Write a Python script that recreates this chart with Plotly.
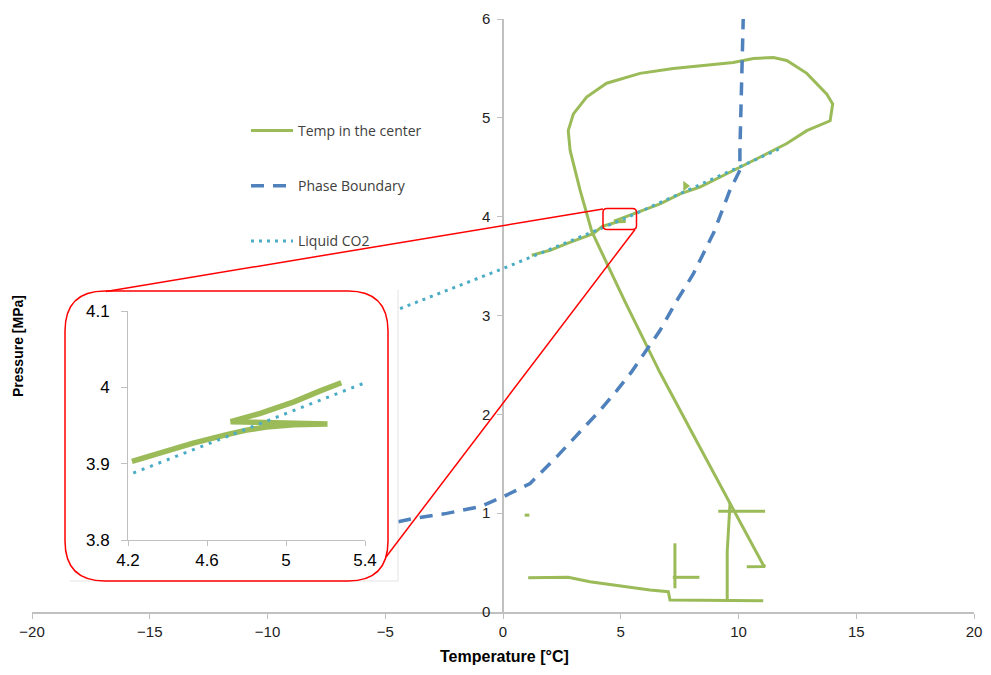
import plotly.graph_objects as go

# ---------------- data ----------------
# Temp in the center: main path (None separates pieces)
temp_x = [1.22, 2.00, 2.70, 3.83,
          4.22, 4.36, 4.53, 4.70, 4.80, 4.90, 5.04, 5.21, 4.95, 4.72, 4.87, 5.04, 5.17, 5.28,
          6.67, 7.52, 8.36, 10.06, 11.48, 12.05, 12.9, 13.6, 13.89, 14.0, 13.75, 12.9, 12.05,
          11.48, 10.63, 9.78, 8.65, 7.23, 5.82, 4.40, 3.55, 2.99, 2.77, 2.85, 3.27, 3.77,
          5.18, 6.67, 8.15, 9.64, 11.05, 11.13, 10.35,
          None, 0.92, 1.12,
          None, 1.07, 2.77, 3.69, 5.11, 6.24, 7.02, 7.09, 11.05,
          None, 7.30, 7.30, None, 7.21, 8.34,
          None, 9.64, 9.52, 9.52, None, 9.14, 11.13]
temp_y = [3.61, 3.66, 3.728, 3.829,
          3.903, 3.914, 3.927, 3.938, 3.944, 3.948, 3.951, 3.952, 3.953, 3.955, 3.966, 3.981, 3.995, 4.006,
          4.13, 4.23, 4.30, 4.50, 4.67, 4.74, 4.87, 4.94, 4.97, 5.14, 5.24, 5.45, 5.58,
          5.61, 5.60, 5.56, 5.53, 5.50, 5.45, 5.35, 5.21, 5.04, 4.87, 4.67, 4.27, 3.85,
          3.14, 2.42, 1.76, 1.10, 0.475, 0.46, 0.458,
          None, 0.98, 0.98,
          None, 0.347, 0.351, 0.306, 0.256, 0.222, 0.205, 0.121, 0.114,
          None, 0.695, 0.24, None, 0.351, 0.351,
          None, 1.10, 0.61, 0.114, None, 1.02, 1.02]
inset_start, inset_end = 4, 18   # slice of the path shown in the zoom inset

# Phase Boundary
phase_x = [-4.45, -3.81, -2.39, -0.98, 0.01, 1.15, 2.28, 3.27, 4.12, 4.83, 5.46,
           6.67, 7.38, 8.08, 8.51, 8.95, 9.64, 10.06, 10.06, 10.10, 10.18, 10.20]
phase_y = [0.913, 0.947, 0.998, 1.065, 1.166, 1.30, 1.57, 1.83, 2.04, 2.24, 2.43,
           2.85, 3.15, 3.42, 3.63, 3.84, 4.27, 4.47, 4.67, 5.0, 5.78, 6.0]

# Liquid CO2
liq_x = [-4.37, 0.0, 4.2, 5.4, 11.87]
liq_y = [3.07, 3.475, 3.885, 4.006, 4.70]

# direction arrow on the curve
arrow_x = [7.75]
arrow_y = [4.31]

x_ticks = [-20, -15, -10, -5, 0, 5, 10, 15, 20]
y_ticks = [0, 1, 2, 3, 4, 5, 6]
inset_x_ticks = [4.2, 4.6, 5.0, 5.4]
inset_x_labels = ["4.2", "4.6", "5", "5.4"]
inset_y_ticks = [3.8, 3.9, 4.0, 4.1]
inset_y_labels = ["3.8", "3.9", "4", "4.1"]

GREEN = "#9BBB59"
BLUE = "#4F81BD"
AQUA = "#4BACC6"
AXIS = "#c0c0c0"

# ---------------- layout geometry ----------------
# page is 991x675; the browser adds an 8px body margin around the figure
OFF = 8
FW, FH = 991 - 2 * OFF, 675 - 2 * OFF
PL, PR, PT, PB = 32, 974, 19, 612          # plot area in page pixels
L, T = PL - OFF, PT - OFF
R, B = FW - (PR - OFF), FH - (PB - OFF)
PW, PH = PR - PL, PB - PT


def px_x(p):
    return (p - PL) / PW


def px_y(p):
    return (PB - p) / PH


fig = go.Figure()

fig.add_trace(go.Scatter(x=temp_x, y=temp_y, mode="lines", name="Temp in the center",
                         line=dict(color=GREEN, width=3), legendgroup="a",
                         connectgaps=False))
fig.add_trace(go.Scatter(x=phase_x, y=phase_y, mode="lines", name="Phase Boundary",
                         line=dict(color=BLUE, width=3.5, dash="13px,9px"), legendgroup="b"))
fig.add_trace(go.Scatter(x=liq_x, y=liq_y, mode="lines", name="Liquid CO2",
                         line=dict(color=AQUA, width=3, dash="3px,5px"), legendgroup="c"))
fig.add_trace(go.Scatter(x=arrow_x, y=arrow_y, mode="markers", showlegend=False,
                         marker=dict(symbol="triangle-right", size=9, color=GREEN)))

# inset traces
fig.add_trace(go.Scatter(x=temp_x[inset_start:inset_end], y=temp_y[inset_start:inset_end],
                         mode="lines", showlegend=False,
                         line=dict(color=GREEN, width=5.5), xaxis="x2", yaxis="y2"))
fig.add_trace(go.Scatter(x=liq_x, y=liq_y, mode="lines", showlegend=False,
                         line=dict(color=AQUA, width=3, dash="3px,6px"), xaxis="x2", yaxis="y2"))

narrow = "Liberation Sans Narrow, Arial Narrow, Liberation Sans, Arial"

fig.update_layout(
    width=FW, height=FH,
    margin=dict(l=L, r=R, t=T, b=B, autoexpand=False),
    paper_bgcolor="white", plot_bgcolor="rgba(0,0,0,0)",
    showlegend=True,
    legend=dict(x=px_x(246), y=px_y(115), xanchor="left", yanchor="top",
                bgcolor="rgba(0,0,0,0)", traceorder="grouped", tracegroupgap=34,
                itemwidth=42,
                font=dict(family="Open Sans, Lato, sans-serif", size=14, color="#404040")),
    xaxis=dict(range=[-20, 20], tickvals=x_ticks, showgrid=False, zeroline=False,
               showline=True, linecolor=AXIS, linewidth=1.5, ticks="outside", ticklen=5,
               tickcolor=AXIS, tickfont=dict(family=narrow, size=15, color="#222"),
               anchor="y", domain=[0, 1]),
    yaxis=dict(range=[0, 6], tickvals=y_ticks, showgrid=False, zeroline=False,
               showline=True, linecolor=AXIS, linewidth=1.5, ticks="outside", ticklen=5,
               tickcolor=AXIS, tickfont=dict(family=narrow, size=15, color="#222"),
               ticklabelstandoff=4,
               anchor="free", position=0.5, domain=[0, 1]),
    xaxis2=dict(range=[4.2, 5.4], tickvals=inset_x_ticks, ticktext=inset_x_labels,
                domain=[px_x(128), px_x(365)], anchor="y2", showgrid=False, zeroline=False,
                showline=True, linecolor=AXIS, linewidth=1, ticks="outside", ticklen=5,
                tickcolor=AXIS, tickfont=dict(family="Liberation Sans, Arial", size=17, color="#000")),
    yaxis2=dict(range=[3.8, 4.1], tickvals=inset_y_ticks, ticktext=inset_y_labels,
                domain=[px_y(540), px_y(311)], anchor="x2", showgrid=False, zeroline=False,
                showline=True, linecolor=AXIS, linewidth=1, ticks="outside", ticklen=6,
                tickcolor=AXIS, ticklabelstandoff=8,
                tickfont=dict(family="Liberation Sans, Arial", size=17, color="#000")),
)

# axis titles
fig.add_annotation(text="<b>Temperature [°C]</b>", xref="paper", yref="paper",
                   x=px_x(504), y=px_y(656), xanchor="center", yanchor="middle",
                   showarrow=False, font=dict(family=narrow, size=16, color="#000"))
fig.add_annotation(text="<b>Pressure [MPa]</b>", xref="paper", yref="paper",
                   x=px_x(18), y=px_y(346), xanchor="center", yanchor="middle",
                   showarrow=False, textangle=-90,
                   font=dict(family=narrow, size=14, color="#000"))


def rounded_rect(x0, y0, x1, y1, r):
    # page-pixel box -> paper path with rounded corners
    rx = r / PW
    ry = r / PH
    X0, X1 = px_x(x0), px_x(x1)
    Y0, Y1 = px_y(y0), px_y(y1)  # Y0 top, Y1 bottom
    return (f"M {X0+rx},{Y0} L {X1-rx},{Y0} Q {X1},{Y0} {X1},{Y0-ry} "
            f"L {X1},{Y1+ry} Q {X1},{Y1} {X1-rx},{Y1} "
            f"L {X0+rx},{Y1} Q {X0},{Y1} {X0},{Y1+ry} "
            f"L {X0},{Y0-ry} Q {X0},{Y0} {X0+rx},{Y0} Z")


# faint border of the pasted inset picture
fig.add_shape(type="line", xref="paper", yref="paper", x0=px_x(398), x1=px_x(398),
              y0=px_y(290), y1=px_y(581), line=dict(color="#e3e3e3", width=1))
fig.add_shape(type="line", xref="paper", yref="paper", x0=px_x(70), x1=px_x(398),
              y0=px_y(581), y1=px_y(581), line=dict(color="#e3e3e3", width=1))

RED = "#FF0000"
fig.add_shape(type="path", xref="paper", yref="paper",
              path=rounded_rect(65, 291, 388, 581, 40), line=dict(color=RED, width=1.5))
fig.add_shape(type="path", xref="paper", yref="paper",
              path=rounded_rect(603, 208.5, 636.5, 229.5, 4), line=dict(color=RED, width=1.5))
fig.add_shape(type="line", xref="paper", yref="paper", x0=px_x(106), y0=px_y(291.5),
              x1=px_x(603), y1=px_y(209), line=dict(color=RED, width=1.5))
fig.add_shape(type="line", xref="paper", yref="paper", x0=px_x(635), y0=px_y(229.5),
              x1=px_x(386), y1=px_y(557), line=dict(color=RED, width=1.5))

fig.write_html("out.html")
